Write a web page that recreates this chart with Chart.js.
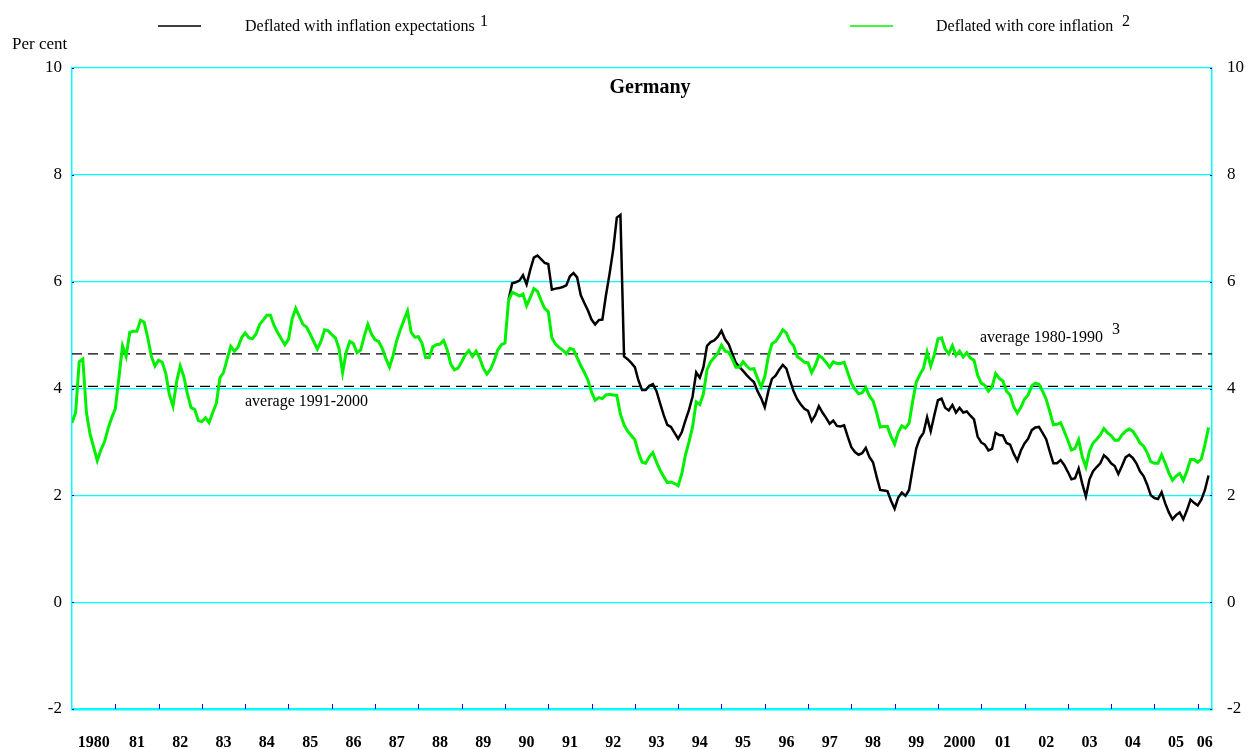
<!DOCTYPE html>
<html>
<head>
<meta charset="utf-8">
<title>Germany - real rates</title>
<script src="https://cdn.jsdelivr.net/npm/chart.js@4.4.1/dist/chart.umd.min.js"></script>
<style>
  html, body { margin: 0; padding: 0; background: #fff; }
  canvas { display: block; }
</style>
</head>
<body>
<canvas id="germanyChart" width="1250" height="749"></canvas>
<script>
// monthly series, first value = January 1980
const coreStart = 1980;
const coreInflation = [
  3.36, 3.55, 4.5, 4.55, 3.55, 3.15, 2.9, 2.65, 2.85, 3.0, 3.25, 3.45,
  3.62, 4.2, 4.8, 4.6, 5.05, 5.07, 5.07, 5.28, 5.24, 4.95, 4.6, 4.42,
  4.53, 4.49, 4.28, 3.88, 3.67, 4.13, 4.42, 4.22, 3.9, 3.64, 3.61, 3.4,
  3.38, 3.45, 3.36, 3.55, 3.72, 4.2, 4.3, 4.55, 4.79, 4.7, 4.77, 4.95,
  5.04, 4.95, 4.93, 5.02, 5.2, 5.28, 5.37, 5.37, 5.18, 5.05, 4.93, 4.82,
  4.92, 5.3, 5.5, 5.35, 5.2, 5.15, 5.02, 4.88, 4.74, 4.88, 5.1, 5.08,
  5.01, 4.95, 4.75, 4.3, 4.68, 4.88, 4.84, 4.67, 4.72, 4.98, 5.2, 5.02,
  4.91, 4.88, 4.75, 4.56, 4.4, 4.62, 4.9, 5.1, 5.28, 5.45, 5.05, 4.96,
  4.97, 4.85, 4.58, 4.58, 4.78, 4.82, 4.83, 4.9, 4.72, 4.45, 4.35, 4.38,
  4.5, 4.63, 4.71, 4.6, 4.7, 4.57, 4.38, 4.27, 4.36, 4.52, 4.72, 4.82,
  4.85, 5.65, 5.8, 5.77, 5.73, 5.77, 5.55, 5.7, 5.87, 5.82, 5.65, 5.5,
  5.44, 4.95, 4.83, 4.77, 4.72, 4.65, 4.75, 4.73, 4.58, 4.43, 4.3, 4.16,
  3.93, 3.78, 3.83, 3.81, 3.88, 3.89, 3.88, 3.87, 3.52, 3.32, 3.2, 3.12,
  3.04, 2.8, 2.62, 2.6, 2.72, 2.8, 2.62, 2.47, 2.35, 2.24, 2.25, 2.22,
  2.18, 2.4, 2.75, 3.0, 3.28, 3.75, 3.7, 3.9, 4.35, 4.5, 4.58, 4.66,
  4.81, 4.7, 4.68, 4.55, 4.4, 4.4, 4.5, 4.42, 4.36, 4.37, 4.19, 4.03,
  4.22, 4.6, 4.84, 4.88, 4.98, 5.1, 5.04, 4.88, 4.8, 4.6, 4.55, 4.49,
  4.48, 4.3, 4.43, 4.62, 4.57, 4.49, 4.4, 4.5, 4.47, 4.47, 4.49, 4.3,
  4.1, 3.99, 3.9, 3.92, 4.02, 3.86, 3.77, 3.55, 3.28, 3.29, 3.29, 3.1,
  2.96, 3.18, 3.3, 3.26, 3.35, 3.76, 4.12, 4.26, 4.38, 4.68, 4.42, 4.63,
  4.93, 4.95, 4.74, 4.65, 4.8, 4.62, 4.7, 4.59, 4.67, 4.57, 4.53, 4.25,
  4.1, 4.06, 3.95, 4.03, 4.28, 4.19, 4.14, 3.95, 3.88, 3.66, 3.54, 3.65,
  3.8, 3.88, 4.05, 4.1, 4.08, 3.95, 3.8, 3.57, 3.32, 3.33, 3.36, 3.2,
  3.03, 2.85, 2.88, 3.04, 2.72, 2.53, 2.83, 2.98, 3.05, 3.13, 3.25, 3.17,
  3.12, 3.03, 3.03, 3.13, 3.2, 3.24, 3.2, 3.1, 2.98, 2.92, 2.8, 2.63,
  2.6, 2.6, 2.76, 2.6, 2.42, 2.28, 2.36, 2.41, 2.28, 2.45, 2.67, 2.67,
  2.62, 2.68, 2.95, 3.27
];

// monthly series, first value = February 1990
const expStart = 1990 + 1 / 12;
const inflationExpectations = [
  5.66, 5.97, 5.99, 6.02, 6.12, 5.95, 6.22, 6.45, 6.49, 6.42, 6.35,
  6.33, 5.85, 5.87, 5.88, 5.9, 5.93, 6.1, 6.16, 6.08, 5.75, 5.6, 5.46,
  5.29, 5.2, 5.28, 5.29, 5.75, 6.15, 6.6, 7.2, 7.25, 4.6, 4.55, 4.48,
  4.4, 4.15, 3.97, 3.97, 4.05, 4.08, 3.95, 3.72, 3.5, 3.32, 3.28, 3.17,
  3.06, 3.18, 3.4, 3.6, 3.85, 4.3, 4.2, 4.4, 4.8, 4.87, 4.9, 4.97,
  5.08, 4.92, 4.83, 4.65, 4.48, 4.4, 4.33, 4.25, 4.18, 4.12, 3.95, 3.82,
  3.65, 3.95, 4.18, 4.24, 4.35, 4.44, 4.37, 4.15, 3.95, 3.8, 3.7, 3.62,
  3.58, 3.39, 3.5, 3.67, 3.55, 3.45, 3.34, 3.4, 3.3, 3.29, 3.31, 3.1,
  2.9, 2.81, 2.76, 2.79, 2.89, 2.72, 2.62, 2.35, 2.1, 2.09, 2.08, 1.9,
  1.75, 1.96, 2.05, 1.99, 2.1, 2.5, 2.88, 3.07, 3.17, 3.46, 3.2, 3.5,
  3.78, 3.81, 3.64, 3.59, 3.69, 3.55, 3.64, 3.55, 3.57, 3.49, 3.42, 3.1,
  2.99, 2.95, 2.84, 2.87, 3.17, 3.13, 3.12, 2.98, 2.95, 2.78, 2.65, 2.84,
  2.97, 3.06, 3.22, 3.27, 3.28, 3.17, 3.05, 2.82, 2.6, 2.6, 2.66, 2.57,
  2.44, 2.3, 2.32, 2.5, 2.22, 1.98, 2.3, 2.45, 2.53, 2.6, 2.75, 2.69,
  2.6, 2.55, 2.4, 2.55, 2.71, 2.76, 2.7, 2.6, 2.45, 2.36, 2.2, 2.0,
  1.95, 1.93, 2.06, 1.85, 1.68, 1.55, 1.63, 1.68, 1.55, 1.72, 1.92, 1.86,
  1.81, 1.92, 2.1, 2.37
];

const avg1980to1990 = 4.65;
const avg1991to2000 = 4.04;

const yearLabels = [
  "1980", "81", "82", "83", "84", "85", "86", "87", "88", "89", "90",
  "91", "92", "93", "94", "95", "96", "97", "98", "99", "2000",
  "01", "02", "03", "04", "05", "06"
];
const yTicks = [-2, 0, 2, 4, 6, 8, 10];

const X_MIN = 1980;
const X_MAX = 2006.33;

const FONT = "'Liberation Serif', 'Times New Roman', serif";
const CYAN = "#00ffff";
const GREEN = "#00f000";

function toPoints(start, values) {
  return values.map((v, i) => ({ x: start + i / 12, y: v }));
}

function flatLine(value) {
  return [{ x: X_MIN, y: value }, { x: X_MAX, y: value }];
}

const extrasPlugin = {
  id: "extras",
  afterDraw(chart) {
    const ctx = chart.ctx;
    const xs = chart.scales.x;
    const ys = chart.scales.y;
    const area = chart.chartArea;

    ctx.save();

    // small inner tick marks at year boundaries
    ctx.strokeStyle = "#0000ff";
    ctx.lineWidth = 1;
    for (let yr = 1981; yr <= 2006; yr++) {
      const px = Math.round(xs.getPixelForValue(yr)) + 0.5;
      ctx.beginPath();
      ctx.moveTo(px, area.bottom);
      ctx.lineTo(px, area.bottom - 5);
      ctx.stroke();
    }
    yTicks.forEach((t) => {
      const py = Math.round(ys.getPixelForValue(t)) + 0.5;
      ctx.beginPath();
      ctx.moveTo(area.left, py);
      ctx.lineTo(area.left + 2, py);
      ctx.moveTo(area.right - 2, py);
      ctx.lineTo(area.right, py);
      ctx.stroke();
    });

    ctx.fillStyle = "#000";
    ctx.textBaseline = "middle";

    // title
    ctx.font = "bold 20px " + FONT;
    ctx.textAlign = "center";
    ctx.fillText("Germany", 650, 88);

    // unit label
    ctx.font = "17px " + FONT;
    ctx.textAlign = "left";
    ctx.fillText("Per cent", 12, 45);

    // legend
    ctx.lineWidth = 1.5;
    ctx.strokeStyle = "#000";
    ctx.beginPath();
    ctx.moveTo(158, 26);
    ctx.lineTo(201, 26);
    ctx.stroke();
    ctx.strokeStyle = GREEN;
    ctx.beginPath();
    ctx.moveTo(850, 26);
    ctx.lineTo(893, 26);
    ctx.stroke();

    ctx.font = "16px " + FONT;
    ctx.fillText("Deflated with inflation expectations", 245, 27);
    ctx.fillText("Deflated with core inflation", 936, 27);
    ctx.fillText("1", 480, 22);
    ctx.fillText("2", 1122, 22);

    // average annotations
    const upperY = ys.getPixelForValue(avg1980to1990);
    const lowerY = ys.getPixelForValue(avg1991to2000);
    ctx.fillText("average 1980-1990", 980, upperY - 16);
    ctx.fillText("3", 1112, upperY - 24);
    ctx.fillText("average 1991-2000", 245, lowerY + 15);

    ctx.restore();
  }
};

const ctx = document.getElementById("germanyChart").getContext("2d");

new Chart(ctx, {
  type: "line",
  data: {
    datasets: [
      {
        label: "Deflated with core inflation",
        data: toPoints(coreStart, coreInflation),
        borderColor: GREEN,
        borderWidth: 3,
        pointRadius: 0,
        tension: 0,
        order: 0
      },
      {
        label: "Deflated with inflation expectations",
        data: toPoints(expStart, inflationExpectations),
        borderColor: "#000",
        borderWidth: 2.5,
        pointRadius: 0,
        tension: 0,
        order: 1
      },
      {
        label: "average 1980-1990",
        data: flatLine(avg1980to1990),
        borderColor: "#000",
        borderWidth: 1.2,
        borderDash: [10, 6],
        pointRadius: 0,
        order: 2
      },
      {
        label: "average 1991-2000",
        data: flatLine(avg1991to2000),
        borderColor: "#000",
        borderWidth: 1.2,
        borderDash: [10, 6],
        pointRadius: 0,
        order: 3
      }
    ]
  },
  options: {
    responsive: false,
    animation: false,
    layout: { padding: { top: 68, left: 0, right: 0, bottom: 0 } },
    plugins: {
      legend: { display: false },
      tooltip: { enabled: false }
    },
    scales: {
      x: {
        type: "linear",
        min: X_MIN,
        max: X_MAX,
        afterFit: (scale) => { scale.height = 40; },
        afterBuildTicks: (scale) => {
          scale.ticks = yearLabels.map((lab, i) => {
            const yr = X_MIN + i;
            const end = Math.min(yr + 1, X_MAX);
            return { value: (yr + end) / 2 };
          });
        },
        grid: { display: false, drawTicks: false },
        border: { color: CYAN, width: 2.5 },
        ticks: {
          autoSkip: false,
          maxRotation: 0,
          padding: 24,
          color: "#000",
          font: { family: FONT, size: 16, weight: "bold" },
          callback: (value, index) => yearLabels[index]
        }
      },
      y: {
        position: "left",
        min: -2,
        max: 10,
        afterFit: (scale) => { scale.width = 72; },
        grid: { color: CYAN, lineWidth: 1.2, drawTicks: false },
        border: { color: CYAN, width: 1.5 },
        ticks: {
          stepSize: 2,
          padding: 10,
          color: "#000",
          font: { family: FONT, size: 17 }
        }
      },
      y2: {
        position: "right",
        min: -2,
        max: 10,
        afterFit: (scale) => { scale.width = 38; },
        grid: { display: false, drawTicks: false },
        border: { color: CYAN, width: 1.5 },
        ticks: {
          stepSize: 2,
          padding: 15,
          color: "#000",
          font: { family: FONT, size: 17 }
        }
      }
    }
  },
  plugins: [extrasPlugin]
});
</script>
</body>
</html>
